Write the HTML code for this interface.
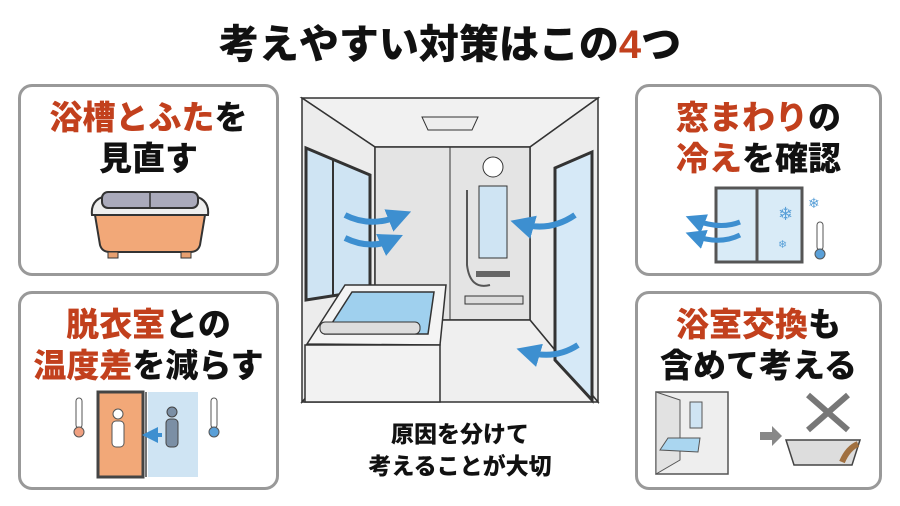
<!DOCTYPE html>
<html><head><meta charset="utf-8"><style>
body{margin:0;width:900px;height:506px;background:#fff;overflow:hidden;font-family:"Liberation Sans","Noto Sans CJK JP",sans-serif;}
.t{position:absolute;left:0;width:900px;text-align:center;top:20px;font-size:40px;font-weight:900;color:#111;line-height:50px}
.p{position:absolute;border:3px solid #999;border-radius:14px;background:#fff;box-sizing:border-box}
.h{position:absolute;left:-20px;right:-20px;text-align:center;font-weight:900;font-size:33px;line-height:41px;color:#111}
.o{color:#c2401d}
.c{position:absolute;left:300px;width:320px;text-align:center;top:418px;font-size:23px;font-weight:900;line-height:32px;color:#111}
svg{position:absolute}
</style></head><body>
<div class="t">考えやすい対策はこの<span class="o">4</span>つ</div>

<div class="p" style="left:18px;top:84px;width:261px;height:192px"><div class="h" style="top:10px"><span class="o">浴槽とふた</span>を<br>見直す</div></div>
<div class="p" style="left:18px;top:291px;width:261px;height:199px"><div class="h" style="top:10px"><span class="o">脱衣室</span>との<br><span class="o">温度差</span>を減らす</div></div>
<div class="p" style="left:635px;top:84px;width:247px;height:192px"><div class="h" style="top:10px"><span class="o">窓まわり</span>の<br><span class="o">冷え</span>を確認</div></div>
<div class="p" style="left:635px;top:291px;width:247px;height:199px"><div class="h" style="top:10px"><span class="o">浴室交換</span>も<br>含めて考える</div></div>

<svg width="900" height="506" viewBox="0 0 900 506" style="left:0;top:0">
<defs><marker id="a" markerWidth="4" markerHeight="4" refX="2" refY="2" orient="auto"><path d="M0,0L4,2L0,4z" fill="#3d8fd0"/></marker></defs>
<!-- bathtub left top -->
<path d="M92,215 Q90,198 110,195 L190,195 Q210,198 208,215 Z" fill="#eee" stroke="#333" stroke-width="2"/>
<rect x="102" y="192" width="96" height="16" rx="6" fill="#aab" stroke="#333" stroke-width="2"/>
<line x1="150" y1="192" x2="150" y2="208" stroke="#333" stroke-width="1.5"/>
<path d="M95,215 L205,215 L200,245 Q198,252 190,252 L110,252 Q102,252 100,245 Z" fill="#f2a878" stroke="#333" stroke-width="2"/>
<rect x="108" y="252" width="10" height="6" fill="#e8a070" stroke="#333"/><rect x="181" y="252" width="10" height="6" fill="#e8a070" stroke="#333"/>
<!-- temp diff -->
<rect x="98" y="392" width="45" height="85" fill="#f2a878" stroke="#444" stroke-width="3"/>
<rect x="148" y="392" width="50" height="85" fill="#cfe4f3"/>
<line x1="146" y1="392" x2="146" y2="477" stroke="#444" stroke-width="1.5"/>
<circle cx="118" cy="414" r="5" fill="#fff" stroke="#555"/><rect x="112" y="421" width="12" height="26" rx="4" fill="#fff" stroke="#555"/>
<circle cx="172" cy="412" r="5" fill="#7b8fa5" stroke="#444"/><rect x="166" y="419" width="12" height="28" rx="4" fill="#7b8fa5" stroke="#444"/>
<path d="M162,435 L150,435" stroke="#3d8fd0" stroke-width="4" marker-end="url(#a)"/>
<rect x="76" y="398" width="6" height="30" rx="3" fill="#fff" stroke="#555"/><circle cx="79" cy="432" r="5" fill="#f0a080" stroke="#555"/>
<rect x="211" y="398" width="6" height="30" rx="3" fill="#fff" stroke="#555"/><circle cx="214" cy="432" r="5" fill="#5aa0d8" stroke="#555"/>
<!-- window right top -->
<rect x="716" y="188" width="86" height="74" fill="#d9ebf7" stroke="#555" stroke-width="3"/>
<line x1="757" y1="188" x2="757" y2="262" stroke="#555" stroke-width="3"/>
<text x="778" y="220" font-size="18" fill="#5aa0d8">❄</text><text x="778" y="248" font-size="11" fill="#5aa0d8">❄</text><text x="808" y="208" font-size="14" fill="#5aa0d8">❄</text>
<rect x="817" y="222" width="6" height="28" rx="3" fill="#fff" stroke="#555"/><circle cx="820" cy="254" r="5" fill="#5aa0d8" stroke="#555"/>
<path d="M740,222 Q720,230 695,220" fill="none" stroke="#3d8fd0" stroke-width="5" marker-end="url(#a)"/>
<path d="M740,235 Q720,245 695,236" fill="none" stroke="#3d8fd0" stroke-width="5" marker-end="url(#a)"/>
<!-- renovation -->
<rect x="656" y="392" width="72" height="82" fill="#eee" stroke="#555" stroke-width="1.5"/>
<path d="M656,392 L680,400 L680,460 L656,474 Z" fill="#e2e2e2" stroke="#555"/>
<rect x="690" y="402" width="12" height="26" fill="#cfe4f3" stroke="#555"/>
<path d="M660,450 L668,438 L700,438 L698,452 Z" fill="#aad6f0" stroke="#555"/>
<path d="M760,432 L772,432 L772,426 L782,436 L772,446 L772,440 L760,440 Z" fill="#888"/>
<path d="M786,440 L860,440 L852,465 L794,465 Z" fill="#ddd" stroke="#444" stroke-width="1.5"/>
<path d="M842,462 Q848,448 858,444" stroke="#a07040" stroke-width="6" fill="none"/>
<path d="M808,395 L848,430 M848,395 L808,430" stroke="#777" stroke-width="6"/>
<!-- center bathroom -->
<path d="M302,98 L598,98 L530,147 L375,147 Z" fill="#f1f1f1" stroke="#333" stroke-width="1.5"/>
<path d="M302,98 L375,147 L375,320 L302,402 Z" fill="#ececec" stroke="#333" stroke-width="1.5"/>
<path d="M598,98 L530,147 L530,320 L598,402 Z" fill="#ececec" stroke="#333" stroke-width="1.5"/>
<rect x="375" y="147" width="155" height="173" fill="#e4e4e4" stroke="#333" stroke-width="1.5"/>
<line x1="450" y1="147" x2="450" y2="320" stroke="#333"/>
<path d="M375,320 L530,320 L598,402 L302,402 Z" fill="#efefef" stroke="#333" stroke-width="1.5"/>
<path d="M422,117 L478,117 L472,130 L428,130 Z" fill="#eee" stroke="#333"/>
<path d="M306,148 L370,175 L370,290 L306,300 Z" fill="#cfe4f3" stroke="#333" stroke-width="3"/>
<line x1="333" y1="160" x2="333" y2="296" stroke="#333" stroke-width="2"/>
<path d="M555,168 L592,152 L592,400 L555,360 Z" fill="#d6e9f7" stroke="#333" stroke-width="3"/>
<circle cx="493" cy="167" r="10" fill="#fff" stroke="#333"/>
<rect x="479" y="186" width="28" height="72" fill="#cfe4f3" stroke="#333"/>
<path d="M467,190 L467,265 Q470,290 490,285" fill="none" stroke="#555" stroke-width="2"/>
<rect x="476" y="271" width="34" height="6" fill="#666"/>
<rect x="465" y="296" width="58" height="8" fill="#ddd" stroke="#333"/>
<path d="M307,344 L345,285 L446,285 L440,345 Z" fill="#f4f4f4" stroke="#333" stroke-width="1.5"/>
<path d="M325,334 L352,292 L434,292 L428,334 Z" fill="#9fd0ee" stroke="#333" stroke-width="1.5"/>
<rect x="320" y="322" width="100" height="12" rx="5" fill="#ddd" stroke="#333"/>
<path d="M305,345 L440,345 L440,402 L305,402 Z" fill="#f2f2f2" stroke="#333" stroke-width="1.5"/>
<path d="M345,215 Q370,228 400,216" fill="none" stroke="#3d8fd0" stroke-width="6" marker-end="url(#a)"/>
<path d="M345,238 Q370,250 392,240" fill="none" stroke="#3d8fd0" stroke-width="6" marker-end="url(#a)"/>
<path d="M575,215 Q550,232 522,224" fill="none" stroke="#3d8fd0" stroke-width="6" marker-end="url(#a)"/>
<path d="M578,345 Q555,360 528,352" fill="none" stroke="#3d8fd0" stroke-width="6" marker-end="url(#a)"/>
</svg>
<div class="c">原因を分けて<br>考えることが大切</div>
</body></html>
